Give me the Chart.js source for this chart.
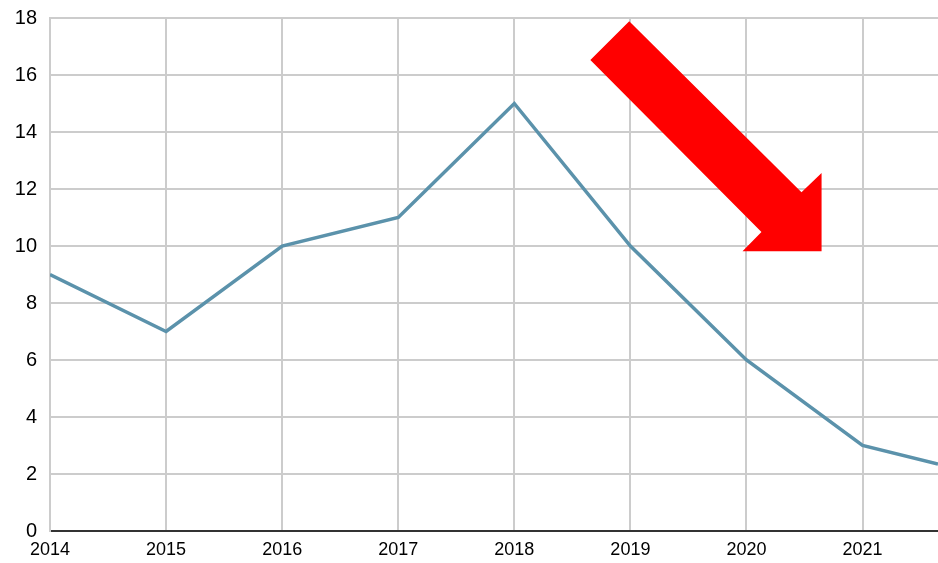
<!DOCTYPE html>
<html>
<head>
<meta charset="utf-8">
<script src="https://cdn.jsdelivr.net/npm/chart.js@4"></script>
<style>
  html, body { margin: 0; padding: 0; background: #fff; }
  #wrap { width: 938px; height: 563px; }
</style>
</head>
<body>
<div id="wrap"><canvas id="chart"></canvas></div>
<script>
// Series (the last point is where the line leaves the plot on the right)
const years = [2014, 2015, 2016, 2017, 2018, 2019, 2020, 2021, 2021.65];
const values = [9, 7, 10, 11, 15, 10, 6, 3, 2.35];
const yTicks = [0, 2, 4, 6, 8, 10, 12, 14, 16, 18];

// Red arrow outline, in data units (year, value)
const arrowX = [2018.655, 2018.99, 2020.474, 2020.647, 2020.647, 2019.966, 2020.129];
const arrowY = [16.53, 17.89, 11.89, 12.56, 9.82, 9.82, 10.49];

const arrowPlugin = {
    id: 'arrow',
    afterDatasetsDraw(chart) {
        const ctx = chart.ctx;
        const xs = chart.scales.x, ys = chart.scales.y;
        ctx.save();
        ctx.beginPath();
        arrowX.forEach((v, i) => {
            const px = xs.getPixelForValue(v), py = ys.getPixelForValue(arrowY[i]);
            if (i === 0) ctx.moveTo(px, py); else ctx.lineTo(px, py);
        });
        ctx.closePath();
        ctx.fillStyle = '#ff0000';
        ctx.fill();
        ctx.restore();
    }
};

const ctx = document.getElementById('chart').getContext('2d');
new Chart(ctx, {
    type: 'line',
    data: {
        datasets: [{
            data: years.map((y, i) => ({ x: y, y: values[i] })),
            borderColor: '#5b92ab',
            borderWidth: 3.5,
            pointRadius: 0,
            tension: 0,
            fill: false
        }]
    },
    options: {
        responsive: true,
        maintainAspectRatio: false,
        animation: false,
        layout: { padding: { top: 18, right: 0, bottom: 0, left: 0 } },
        plugins: { legend: { display: false }, tooltip: { enabled: false } },
        scales: {
            x: {
                type: 'linear',
                min: 2014,
                max: 2021.65,
                afterBuildTicks: scale => {
                    scale.ticks = years.filter(Number.isInteger).map(v => ({ value: v }));
                },
                afterFit: scale => { scale.height = 32; scale.paddingRight = 0; },
                grid: { color: '#cccccc', lineWidth: 2, drawTicks: false },
                border: { color: '#333333', width: 2 },
                ticks: {
                    padding: 8,
                    color: '#000',
                    maxRotation: 0,
                    font: { family: 'Liberation Sans, Arial, sans-serif', size: 18 },
                    callback: v => String(v)
                }
            },
            y: {
                min: 0,
                max: 18,
                afterBuildTicks: scale => {
                    scale.ticks = yTicks.map(v => ({ value: v }));
                },
                afterFit: scale => { scale.width = 50; scale.paddingTop = 0; scale.paddingBottom = 0; },
                grid: { color: '#cccccc', lineWidth: 2, drawTicks: false },
                border: { color: '#cccccc', width: 2 },
                ticks: {
                    padding: 13,
                    color: '#000',
                    font: { family: 'Liberation Sans, Arial, sans-serif', size: 20 }
                }
            }
        }
    },
    plugins: [arrowPlugin]
});
</script>
</body>
</html>
